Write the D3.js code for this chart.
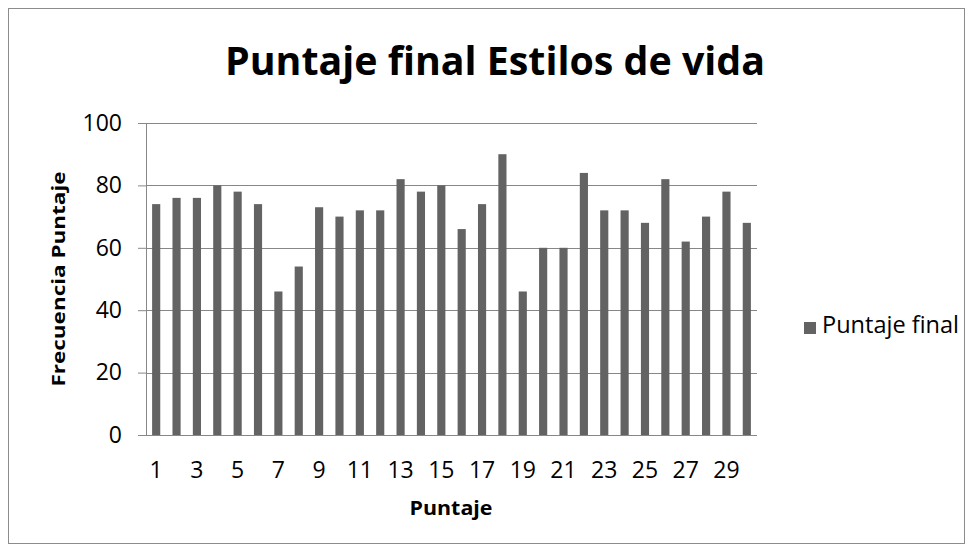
<!DOCTYPE html>
<html>
<head>
<meta charset="utf-8">
<script src="https://cdn.jsdelivr.net/npm/d3@7"></script>
<style>
  body { margin: 0; background: #fff; }
  text { font-family: "Open Sans", "Noto Sans", sans-serif; }
</style>
</head>
<body>
<svg id="chart" width="973" height="552"></svg>
<script>
// Data
const categories = d3.range(1, 31);
const values = [74, 76, 76, 80, 78, 74, 46, 54, 73, 70, 72, 72, 82, 78, 80,
                66, 74, 90, 46, 60, 60, 84, 72, 72, 68, 82, 62, 70, 78, 68];
const yTicks = [0, 20, 40, 60, 80, 100];
const seriesName = "Puntaje final";

const svg = d3.select("#chart");
const width = 973, height = 552;
const margin = {left: 146, right: 216, top: 123, bottom: 117};
const plotW = width - margin.left - margin.right;
const plotH = height - margin.top - margin.bottom;
const barColor = "#636363";
const gridColor = "#878787";

// outer frame
svg.append("rect")
  .attr("x", 8.5).attr("y", 8.5)
  .attr("width", 956).attr("height", 535)
  .attr("fill", "#fff").attr("stroke", "#8c8c8c");

// title
svg.append("text")
  .attr("x", 495).attr("y", 75)
  .attr("text-anchor", "middle")
  .attr("font-size", 39).attr("font-weight", "bold")
  .attr("textLength", 540).attr("lengthAdjust", "spacingAndGlyphs")
  .text("Puntaje final Estilos de vida");

const x = d3.scaleBand().domain(categories).range([0, plotW]).paddingInner(0.6).paddingOuter(0.3);
const y = d3.scaleLinear().domain([0, 100]).range([plotH, 0]);

const g = svg.append("g").attr("transform", `translate(${margin.left},${margin.top})`);

// y axis
const yAxis = d3.axisLeft(y).tickValues(yTicks).tickSize(8).tickPadding(16);
const yg = g.append("g").call(yAxis);
yg.select(".domain").attr("stroke", gridColor).attr("d", `M0.5,0V${plotH}`);
yg.selectAll(".tick line").attr("stroke", gridColor);
yg.selectAll(".tick text").attr("font-size", 23).attr("fill", "#000");

// gridlines
g.append("g").selectAll("line").data(yTicks).join("line")
  .attr("x1", 0).attr("x2", plotW)
  .attr("y1", d => Math.round(y(d)) + 0.5).attr("y2", d => Math.round(y(d)) + 0.5)
  .attr("stroke", gridColor).attr("stroke-width", 1);

// bars
g.append("g").selectAll("rect").data(values).join("rect")
  .attr("x", (d, i) => x(categories[i]))
  .attr("y", d => y(d))
  .attr("width", x.bandwidth())
  .attr("height", d => y(0) - y(d))
  .attr("fill", barColor);

// x axis, every other label
const xAxis = d3.axisBottom(x)
  .tickValues(categories.filter(c => c % 2 === 1))
  .tickSize(0).tickPadding(27);
const xg = g.append("g").attr("transform", `translate(0,${plotH})`).call(xAxis);
xg.select(".domain").remove();
xg.selectAll(".tick text").attr("font-size", 23).attr("fill", "#000");

// axis titles
svg.append("text")
  .attr("x", 451).attr("y", 515)
  .attr("text-anchor", "middle")
  .attr("font-size", 20).attr("font-weight", "bold")
  .attr("textLength", 83).attr("lengthAdjust", "spacingAndGlyphs")
  .text("Puntaje");

svg.append("text")
  .attr("transform", `translate(65,${margin.top + plotH / 2}) rotate(-90)`)
  .attr("text-anchor", "middle")
  .attr("font-family", "DejaVu Sans")
  .attr("font-size", 18).attr("font-weight", "bold")
  .attr("textLength", 215).attr("lengthAdjust", "spacingAndGlyphs")
  .text("Frecuencia Puntaje");

// legend
const lg = svg.append("g").attr("transform", "translate(804,322)");
lg.append("rect").attr("width", 12).attr("height", 12).attr("fill", barColor);
lg.append("text").attr("x", 18).attr("y", 11)
  .attr("font-size", 24).attr("fill", "#000")
  .attr("textLength", 137).attr("lengthAdjust", "spacingAndGlyphs")
  .text(seriesName);
</script>
</body>
</html>
